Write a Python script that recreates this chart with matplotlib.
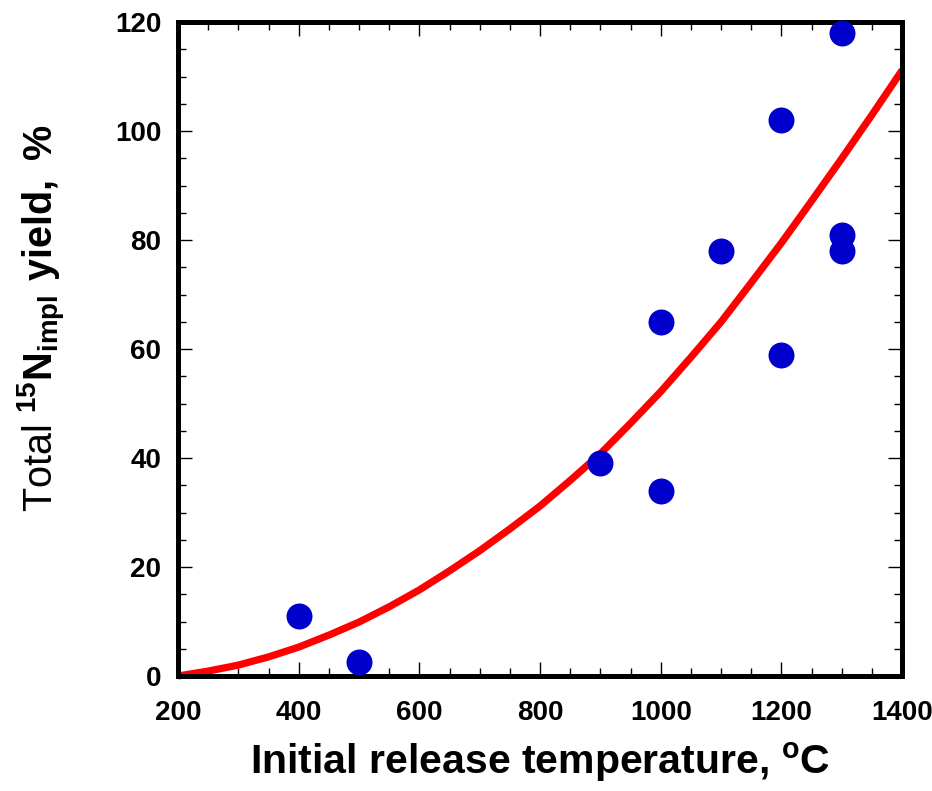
import numpy as np
import matplotlib
matplotlib.use("Agg")
from matplotlib import pyplot as plt
from matplotlib.ticker import MultipleLocator

# dados medidos
temperatura = [400, 500, 900, 1000, 1000, 1100, 1200, 1200, 1300, 1300, 1300]
rendimento = [11, 2.5, 39, 65, 34, 78, 102, 59, 118, 81, 78]

# curva de ajuste
curva_t = [200, 250, 300, 350, 400, 450, 500, 550, 600, 650, 700, 750, 800,
           850, 900, 950, 1000, 1050, 1100, 1150, 1200, 1250, 1300, 1350, 1400]
curva_y = [0, 0.9, 2.0, 3.5, 5.3, 7.5, 9.9, 12.7, 15.8, 19.3, 23.0, 27.0, 31.2,
           35.9, 40.8, 46.4, 52.2, 58.5, 65.0, 72.2, 79.5, 87.2, 95.0, 103.0, 111.2]

plt.rcParams['mathtext.fontset'] = 'custom'
plt.rcParams['mathtext.rm'] = 'Liberation Sans'
plt.rcParams['mathtext.bf'] = 'Liberation Sans:bold'
plt.rcParams['font.family'] = ['Liberation Sans', 'DejaVu Sans']

fig = plt.figure(figsize=(9.32, 7.91), dpi=100)
ax = fig.add_axes([0.191, 0.1454, 0.777, 0.8266])

ax.plot(curva_t, curva_y, color="#ff0000", linewidth=5.2, zorder=2, clip_on=False,
        solid_joinstyle='round', solid_capstyle='butt')
ax.scatter(temperatura, rendimento, s=350, color="#0000cc", zorder=3, clip_on=False, linewidths=0)

ax.set_xlim(200, 1400)
ax.set_ylim(0, 120)
ax.xaxis.set_major_locator(MultipleLocator(200))
ax.xaxis.set_minor_locator(MultipleLocator(50))
ax.yaxis.set_major_locator(MultipleLocator(20))
ax.yaxis.set_minor_locator(MultipleLocator(5))
ax.tick_params(which='both', direction='in', top=True, right=True, width=1)
ax.tick_params(which='major', length=10)
ax.tick_params(which='minor', length=6)
ax.tick_params(axis='x', pad=17)
ax.tick_params(axis='y', pad=12)
for s in ax.spines.values():
    s.set_linewidth(3.6)

for lab in ax.get_xticklabels() + ax.get_yticklabels():
    lab.set_fontweight('bold')
    lab.set_fontsize(20)

ax.set_xlabel(r"Initial release temperature, $^\mathbf{o}$C", fontsize=29.5,
              fontweight='bold')
ax.xaxis.set_label_coords(0.5, -0.098)
ax.set_ylabel(r"Total $\mathbf{^{15}N_{impl}\ yield,}$ $\mathbf{\%}$", fontsize=28.5)
ax.yaxis.set_label_coords(-0.152, 0.547)

plt.savefig("out.png", dpi=100)
plt.close()
